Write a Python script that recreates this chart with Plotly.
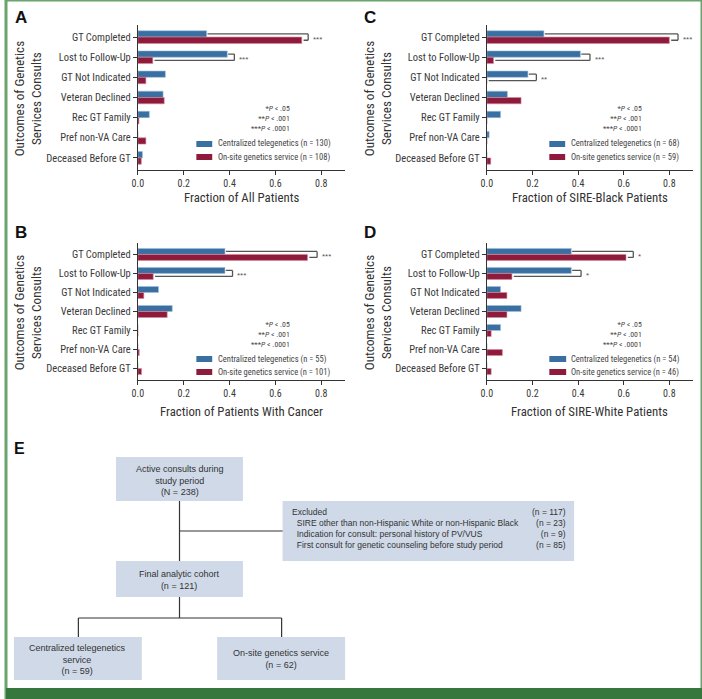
import plotly.graph_objects as go

W, H = 702, 699

categories = ["GT Completed", "Lost to Follow-Up", "GT Not Indicated", "Veteran Declined",
              "Rec GT Family", "Pref non-VA Care", "Deceased Before GT"]

A_tele = [0.30, 0.39, 0.12, 0.11, 0.05, 0.0, 0.02]
A_onsite = [0.715, 0.065, 0.035, 0.115, 0.005, 0.035, 0.015]
B_tele = [0.38, 0.38, 0.09, 0.15, 0.0, 0.0, 0.0]
B_onsite = [0.74, 0.067, 0.026, 0.128, 0.0, 0.006, 0.016]
C_tele = [0.25, 0.41, 0.18, 0.09, 0.06, 0.01, 0.0]
C_onsite = [0.80, 0.029, 0.0, 0.15, 0.0, 0.0, 0.017]
D_tele = [0.37, 0.37, 0.06, 0.15, 0.06, 0.0, 0.0]
D_onsite = [0.61, 0.11, 0.088, 0.088, 0.019, 0.068, 0.019]

A_n = (130, 108)
B_n = (55, 101)
C_n = (68, 59)
D_n = (54, 46)

A_sig = [(0, 0.743, "***"), (1, 0.421, "***")]
B_sig = [(0, 0.782, "***"), (1, 0.413, "***")]
C_sig = [(0, 0.838, "***"), (1, 0.452, "***"), (2, 0.217, "**")]
D_sig = [(0, 0.642, "*"), (1, 0.413, "*")]

x_ticks = [0.0, 0.2, 0.4, 0.6, 0.8]
pvalue_lines = ["*<i>P</i> < .05", "**<i>P</i> < .001", "***<i>P</i> < .0001"]

BLUE = "#3a6fa2"
RED = "#8e1b3b"
GRAY = "#333333"
BOXFILL = "#cfd9e8"
FN = "Liberation Sans Narrow, Arial Narrow, Roboto Condensed, sans-serif"
FR = "Liberation Sans, Arial, sans-serif"


def X(px):
    return px / W


def Y(py):
    return 1 - py / H


panels = [
    dict(ax="", letter="A", tele=A_tele, onsite=A_onsite, n=A_n, sig=A_sig,
         title="Fraction of All Patients", xl=133, xr=342, yt=25, yb=170,
         lettpos=(15, 18), ytx=22, tty=198, pright=288, py=118,
         sw=(192, 208), swy=(144, 157), txl=212),
    dict(ax="2", letter="C", tele=C_tele, onsite=C_onsite, n=C_n, sig=C_sig,
         title="Fraction of SIRE-Black Patients", xl=485, xr=693, yt=25, yb=170,
         lettpos=(367, 18), ytx=375, tty=197, pright=643, py=119,
         sw=(548, 564), swy=(144, 157), txl=568),
    dict(ax="3", letter="B", tele=B_tele, onsite=B_onsite, n=B_n, sig=B_sig,
         title="Fraction of Patients With Cancer", xl=133, xr=342, yt=243, yb=380,
         lettpos=(15, 233), ytx=22, tty=412, pright=288, py=334,
         sw=(192, 208), swy=(359, 372), txl=212),
    dict(ax="4", letter="D", tele=D_tele, onsite=D_onsite, n=D_n, sig=D_sig,
         title="Fraction of SIRE-White Patients", xl=485, xr=693, yt=243, yb=380,
         lettpos=(367, 233), ytx=375, tty=412, pright=643, py=334,
         sw=(548, 565), swy=(359, 372), txl=568),
]

fig = go.Figure()
shapes = []
annotations = []
layout_axes = {}

HALF = 0.1575  # center offset of each bar in a group (category units)

for p in panels:
    xa = "x" + p["ax"]
    ya = "y" + p["ax"]
    fig.add_trace(go.Bar(y=categories, x=p["tele"], orientation="h", xaxis=xa, yaxis=ya,
                         name=f"Centralized telegenetics (n = {p['n'][0]})",
                         marker=dict(color=BLUE, line=dict(color="#9fbfdc", width=0.6)),
                         showlegend=False))
    fig.add_trace(go.Bar(y=categories, x=p["onsite"], orientation="h", xaxis=xa, yaxis=ya,
                         name=f"On-site genetics service (n = {p['n'][1]})",
                         marker=dict(color=RED, line=dict(color="#d58a9c", width=0.6)),
                         showlegend=False))
    xkey = "xaxis" + p["ax"]
    ykey = "yaxis" + p["ax"]
    layout_axes[xkey] = dict(
        domain=[X(p["xl"]), X(p["xr"])], range=[0, 0.904], anchor=ya,
        tickvals=x_ticks, ticktext=[f"{v:.1f}" for v in x_ticks],
        ticks="outside", ticklen=4, tickcolor=GRAY, tickwidth=1,
        showline=True, linecolor=GRAY, linewidth=1, showgrid=False, zeroline=False,
        tickfont=dict(family=FN, size=10, color="#3a3a3a"), fixedrange=True)
    layout_axes[ykey] = dict(
        domain=[Y(p["yb"]), Y(p["yt"])], type="category", categoryorder="array",
        categoryarray=categories, range=[6.6, -0.6], anchor=xa,
        ticks="outside", ticklen=4, tickcolor=GRAY, tickwidth=1,
        showline=True, linecolor=GRAY, linewidth=1, showgrid=False, zeroline=False,
        tickfont=dict(family=FN, size=10.5, color="#3a3a3a"), fixedrange=True)

    for idx, bx, stars in p["sig"]:
        yb0 = idx - HALF
        yb1 = idx + HALF
        x_top = p["tele"][idx] + 0.004
        x_bot = p["onsite"][idx] + 0.008
        for (xx0, yy0, xx1, yy1) in [(x_top, yb0, bx, yb0), (bx, yb0, bx, yb1), (bx, yb1, x_bot, yb1)]:
            shapes.append(dict(type="line", xref=xa, yref=ya, x0=xx0, y0=yy0, x1=xx1, y1=yy1,
                               line=dict(color="#555555", width=1.3)))
        annotations.append(dict(xref=xa, yref=ya, x=bx + 0.012, y=idx, text=stars,
                                showarrow=False, xanchor="left", yanchor="middle", yshift=-2,
                                font=dict(family=FR, size=8, color="#555555")))

    annotations.append(dict(xref="paper", yref="paper", x=X(p["lettpos"][0]), y=Y(p["lettpos"][1]),
                            text=f"<b>{p['letter']}</b>", showarrow=False, xanchor="center",
                            yanchor="middle", font=dict(family=FR, size=17, color="#111111")))
    ymid = (p["yt"] + p["yb"]) / 2 + 1
    annotations.append(dict(xref="paper", yref="paper", x=X(p["ytx"]), y=Y(ymid),
                            text="Outcomes of Genetics<br>Services Consults",
                            textangle=-90, showarrow=False, xanchor="center", yanchor="middle",
                            align="center", font=dict(family=FN, size=13.2, color="#333333")))
    annotations.append(dict(xref="paper", yref="paper", x=X((p["xl"] + p["xr"]) / 2), y=Y(p["tty"]),
                            text=p["title"], showarrow=False, xanchor="center", yanchor="middle",
                            font=dict(family=FN, size=12.8, color="#333333")))
    annotations.append(dict(xref="paper", yref="paper", x=X(p["pright"]), y=Y(p["py"]),
                            text="<br>".join(pvalue_lines), align="right",
                            showarrow=False, xanchor="right", yanchor="middle",
                            font=dict(family=FN, size=7.8, color="#444444")))
    for yy, col, lab in zip(p["swy"], [BLUE, RED],
                            [f"Centralized telegenetics (n = {p['n'][0]})",
                             f"On-site genetics service (n = {p['n'][1]})"]):
        shapes.append(dict(type="rect", xref="paper", yref="paper", x0=X(p["sw"][0]), x1=X(p["sw"][1]),
                           y0=Y(yy + 3), y1=Y(yy - 3), fillcolor=col, line=dict(width=0)))
        annotations.append(dict(xref="paper", yref="paper", x=X(p["txl"]), y=Y(yy), text=lab,
                                showarrow=False, xanchor="left", yanchor="middle",
                                font=dict(family=FN, size=8.5, color="#444444")))

# ---------------- Flowchart (panel E) ----------------
flow_boxes = [
    dict(x0=111, x1=239, y0=457, y1=501, text="Active consults during<br>study period<br>(N = 238)",
         cy=480, cx=175),
    dict(x0=111, x1=239, y0=561, y1=597, text="Final analytic cohort<br>(n = 121)",
         cy=580, cx=175),
    dict(x0=8, x1=137, y0=637, y1=680, text="Centralized telegenetics<br>service<br>(n = 59)",
         cy=659, cx=72),
    dict(x0=213, x1=342, y0=637, y1=680, text="On-site genetics service<br>(n = 62)",
         cy=659, cx=277),
]
excl_left = ["Excluded", "&nbsp;&nbsp;SIRE other than non-Hispanic White or non-Hispanic Black",
             "&nbsp;&nbsp;Indication for consult: personal history of PV/VUS",
             "&nbsp;&nbsp;First consult for genetic counseling before study period"]
excl_right = ["(n = 117)", "(n = 23)", "(n = 9)", "(n = 85)"]

for b in flow_boxes:
    shapes.append(dict(type="rect", xref="paper", yref="paper", x0=X(b["x0"]), x1=X(b["x1"]),
                       y0=Y(b["y1"]), y1=Y(b["y0"]), fillcolor=BOXFILL, line=dict(width=0), layer="below"))
    annotations.append(dict(xref="paper", yref="paper", x=X(b["cx"]), y=Y(b["cy"]), text=b["text"],
                            showarrow=False, xanchor="center", yanchor="middle", align="center",
                            font=dict(family=FR, size=9, color="#333333")))
shapes.append(dict(type="rect", xref="paper", yref="paper", x0=X(279), x1=X(573), y0=Y(561), y1=Y(501),
                   fillcolor=BOXFILL, line=dict(width=0), layer="below"))
annotations.append(dict(xref="paper", yref="paper", x=X(286), y=Y(528), text="<br>".join(excl_left),
                        showarrow=False, xanchor="left", yanchor="middle", align="left",
                        font=dict(family=FR, size=8.5, color="#333333")))
annotations.append(dict(xref="paper", yref="paper", x=X(567), y=Y(528), text="<br>".join(excl_right),
                        showarrow=False, xanchor="right", yanchor="middle", align="right",
                        font=dict(family=FR, size=8.5, color="#333333")))

connectors = [
    (175, 501, 175, 561), (175, 531, 279, 531), (175, 597, 175, 618),
    (73, 618, 278, 618), (73, 618, 73, 637), (278, 618, 278, 637),
]
for (a, b, c, d) in connectors:
    shapes.append(dict(type="line", xref="paper", yref="paper", x0=X(a), y0=Y(b), x1=X(c), y1=Y(d),
                       line=dict(color="#333333", width=1.2)))

annotations.append(dict(xref="paper", yref="paper", x=X(14), y=Y(448), text="<b>E</b>", showarrow=False,
                        xanchor="center", yanchor="middle", font=dict(family=FR, size=16, color="#111111")))

shapes.append(dict(type="rect", xref="paper", yref="paper", x0=0, x1=1, y0=0, y1=1,
                   line=dict(color="#6aa46d", width=3), fillcolor="rgba(0,0,0,0)"))
shapes.append(dict(type="rect", xref="paper", yref="paper", x0=0, x1=1, y0=0, y1=Y(688),
                   fillcolor="#35773d", line=dict(width=0)))

fig.update_layout(
    width=W, height=H, margin=dict(l=0, r=0, t=0, b=0),
    paper_bgcolor="white", plot_bgcolor="white",
    barmode="group", bargap=0.37, bargroupgap=0.0,
    shapes=shapes, annotations=annotations, showlegend=False,
    **layout_axes,
)

fig.write_html("out.html", config={"displayModeBar": False},
               post_script="document.body.style.margin='0';document.body.style.padding='0';")
